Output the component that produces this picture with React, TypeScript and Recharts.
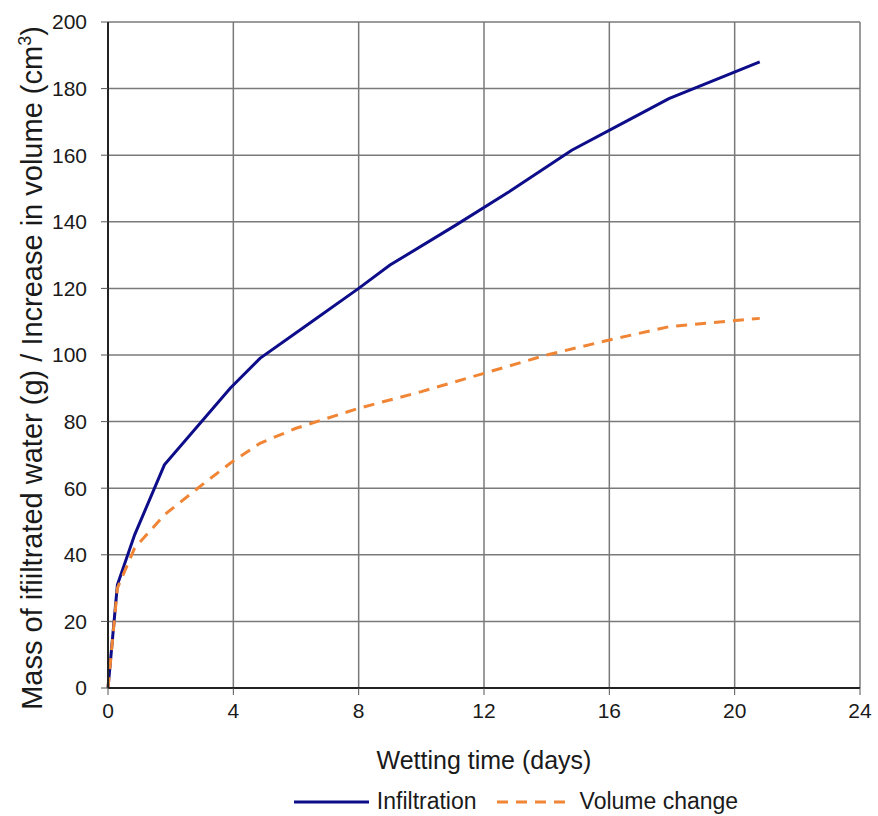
import React from "react";
import { LineChart, Line, XAxis, YAxis, CartesianGrid, Legend, Label } from "recharts";

const infiltrationDays = [0, 0.3, 0.85, 1.8, 3.9, 4.85, 6.5, 8, 9, 11.1, 12.8, 14.8, 16.7, 17.9, 20.8];
const infiltrationMass = [0, 31, 46, 67, 90, 99, 110, 120, 127, 139, 149, 161.5, 171, 177, 188];

const volumeDays = [0, 0.3, 0.85, 1.8, 3, 3.9, 4.85, 6, 8, 10, 12, 14, 16, 17.9, 20.8];
const volumeChange = [0, 30, 42, 52, 61, 67.5, 73.5, 78, 84, 89, 94.5, 100, 104.5, 108.5, 111];

const xTicks = [0, 4, 8, 12, 16, 20, 24];
const yTicks = [0, 20, 40, 60, 80, 100, 120, 140, 160, 180, 200];

const infiltrationData = infiltrationDays.map((x, i) => ({ x, y: infiltrationMass[i] }));
const volumeData = volumeDays.map((x, i) => ({ x, y: volumeChange[i] }));

const font = "'Liberation Sans', Arial, sans-serif";
const navy = "#0d0d8a";
const orange = "#f08535";

function LegendBox() {
  return (
    <div
      style={{
        display: "flex",
        justifyContent: "center",
        alignItems: "center",
        fontFamily: font,
        fontSize: 23,
        color: "#1a1a1a",
        paddingLeft: 172,
        paddingTop: 10,
        gap: 20,
      }}
    >
      <span style={{ display: "flex", alignItems: "center", gap: 8 }}>
        <svg width={75} height={6}>
          <line x1={0} y1={3} x2={75} y2={3} stroke={navy} strokeWidth={3} />
        </svg>
        Infiltration
      </span>
      <span style={{ display: "flex", alignItems: "center", gap: 8 }}>
        <svg width={75} height={6}>
          <line x1={0} y1={3} x2={75} y2={3} stroke={orange} strokeWidth={3} strokeDasharray="11 8" />
        </svg>
        Volume change
      </span>
    </div>
  );
}

export default function App() {
  return (
    <div style={{ position: "absolute", left: 0, top: 0, background: "#fff" }}>
      <LineChart width={878} height={816} margin={{ top: 22, right: 18, left: 0, bottom: 0 }}>
        <CartesianGrid stroke="#7a7a7a" strokeWidth={1.5} />
        <XAxis
          type="number"
          dataKey="x"
          domain={[0, 24]}
          ticks={xTicks}
          height={90}
          tickSize={7}
          tickMargin={8}
          tick={{ fontSize: 21, fill: "#1a1a1a", fontFamily: font }}
          axisLine={{ stroke: "#222", strokeWidth: 2 }}
          tickLine={{ stroke: "#555" }}
        >
          <Label
            content={() => (
              <text x={484} y={769} textAnchor="middle" fontSize={25} fill="#1a1a1a" fontFamily={font}>
                Wetting time (days)
              </text>
            )}
          />
        </XAxis>
        <YAxis
          type="number"
          domain={[0, 200]}
          ticks={yTicks}
          width={108}
          tickSize={7}
          tickMargin={14}
          tick={{ fontSize: 21, fill: "#1a1a1a", fontFamily: font }}
          axisLine={{ stroke: "#222", strokeWidth: 2 }}
          tickLine={{ stroke: "#555" }}
        >
          <Label
            content={() => (
              <text
                x={42}
                y={368}
                transform="rotate(-90 42 368)"
                textAnchor="middle"
                fontSize={29}
                fill="#1a1a1a"
                fontFamily={font}
              >
                Mass of ifiiltrated water (g) / Increase in volume (cm
                <tspan fontSize={18} dy={-11}>3</tspan>
                <tspan dy={11}>)</tspan>
              </text>
            )}
          />
        </YAxis>
        <Legend verticalAlign="bottom" height={38} content={() => <LegendBox />} />
        <Line
          data={infiltrationData}
          dataKey="y"
          name="Infiltration"
          stroke={navy}
          strokeWidth={3}
          dot={false}
          type="linear"
          isAnimationActive={false}
        />
        <Line
          data={volumeData}
          dataKey="y"
          name="Volume change"
          stroke={orange}
          strokeWidth={3}
          strokeDasharray="11 8"
          dot={false}
          type="linear"
          isAnimationActive={false}
        />
      </LineChart>
    </div>
  );
}
